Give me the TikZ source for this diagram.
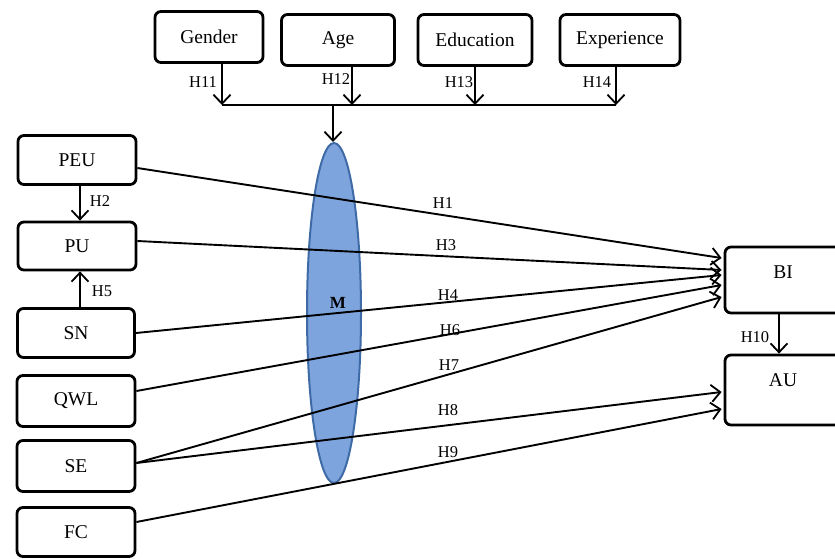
\documentclass[tikz,border=0pt]{standalone}
\usepackage{fontspec}
\setmainfont{Liberation Serif}
\usetikzlibrary{arrows.meta,shapes.geometric,calc}
\definecolor{mfill}{RGB}{126,164,222}
\definecolor{medge}{RGB}{62,106,166}
\tikzset{
  box/.style={draw=black, line width=2.8pt, rounded corners=6pt, inner sep=0pt, font=\fontsize{19.5}{21}\selectfont},
  hlab/.style={font=\fontsize{16.5}{18}\selectfont, inner sep=0pt},
  arr/.style={line width=1.9pt, -{Straight Barb[length=9pt,width=17pt,line width=1.8pt]}},
  ln/.style={line width=1.9pt}
}
\begin{document}
\begin{tikzpicture}[x=1pt,y=-1pt]
\useasboundingbox (0,0) rectangle (835,558);
\clip (0,0) rectangle (835,558);
% ellipse M
\node[ellipse, draw=medge, fill=mfill, line width=2pt, minimum width=54pt, minimum height=340pt, inner sep=0pt] (M) at (334,313) {};
\node[font=\bfseries\fontsize{17}{19}\selectfont, inner sep=0pt] (Mlab) at (338,303) {M};
% top boxes
\node[box, minimum width=108pt, minimum height=51pt] (Gender) at (209,37) {Gender};
\node[box, minimum width=113pt, minimum height=51pt] (Age) at (338,40) {Age};
\node[box, minimum width=114pt, minimum height=51pt] (Edu) at (475,40) {Education};
\node[box, minimum width=120pt, minimum height=51pt] (Exp) at (620,40) {Experience};
% left boxes
\node[box, minimum width=118pt, minimum height=49pt] (PEU) at (77,160) {PEU};
\node[box, minimum width=118pt, minimum height=48pt] (PU) at (77,246) {PU};
\node[box, minimum width=117pt, minimum height=49pt] (SN) at (76,333) {SN};
\node[box, minimum width=118pt, minimum height=51pt] (QWL) at (76,401) {QWL};
\node[box, minimum width=118pt, minimum height=51pt] (SE) at (76,466) {SE};
\node[box, minimum width=118pt, minimum height=49pt] (FC) at (76,532) {FC};
% right boxes
\node[box, minimum width=120pt, minimum height=66pt] (BI) at (785,280) {};
\node[font=\fontsize{19.5}{21}\selectfont, inner sep=0pt] (BIl) at (783,272) {BI};
\node[box, minimum width=120pt, minimum height=70pt] (AU) at (785,390) {};
\node[font=\fontsize{19.5}{21}\selectfont, inner sep=0pt] (AUl) at (783,380) {AU};
% moderator arrows
\coordinate (j1) at (222,105);
\coordinate (j2) at (352,105);
\coordinate (j3) at (475,105);
\coordinate (j4) at (616,105);
\coordinate (jm) at (333,105);
\draw[arr] (Gender.south -| j1) -- (j1);
\draw[arr] (Age.south -| j2) -- (j2);
\draw[arr] (Edu.south -| j3) -- (j3);
\draw[arr] (Exp.south -| j4) -- (j4);
\draw[ln] (j1) -- (j4);
\draw[arr] (jm) -- (M.north -| jm);
\node[hlab] (h11) at (203,82) {H11};
\node[hlab] (h12) at (336,79) {H12};
\node[hlab] (h13) at (459,82) {H13};
\node[hlab] (h14) at (597,82) {H14};
% left vertical arrows
\coordinate (c1) at (80,0);
\draw[arr] (PEU.south -| c1) -- (PU.north -| c1);
\draw[arr] (SN.north -| c1) -- (PU.south -| c1);
\node[hlab] (h2) at (100,201) {H2};
\node[hlab] (h5) at (102,291) {H5};
% BI -> AU
\coordinate (c2) at (779,0);
\draw[arr] (BI.south -| c2) -- (AU.north -| c2);
\node[hlab] (h10) at (755,337) {H10};
% main paths
\draw[arr] ($(PEU.east)+(0,8)$) -- ($(BI.west)+(-2,-22)$);
\draw[arr] ($(PU.east)+(0,-5)$) -- ($(BI.west)+(-2,-10)$);
\draw[arr] (SN.east) -- ($(BI.west)+(-2,-5)$);
\draw[arr] ($(QWL.east)+(0,-10)$) -- ($(BI.west)+(-2,5)$);
\draw[arr] ($(SE.east)+(0,-3)$) -- ($(BI.west)+(-2,17)$);
\draw[arr] ($(SE.east)+(0,-3)$) -- ($(AU.west)+(-2,2)$);
\draw[arr] ($(FC.east)+(0,-10)$) -- ($(AU.west)+(-2,19)$);
\node[hlab] (h1) at (443,203) {H1};
\node[hlab] (h3) at (446,245) {H3};
\node[hlab] (h4) at (448,295) {H4};
\node[hlab] (h6) at (450,330) {H6};
\node[hlab] (h7) at (449,365) {H7};
\node[hlab] (h8) at (448,410) {H8};
\node[hlab] (h9) at (448,452) {H9};
\end{tikzpicture}
\end{document}
